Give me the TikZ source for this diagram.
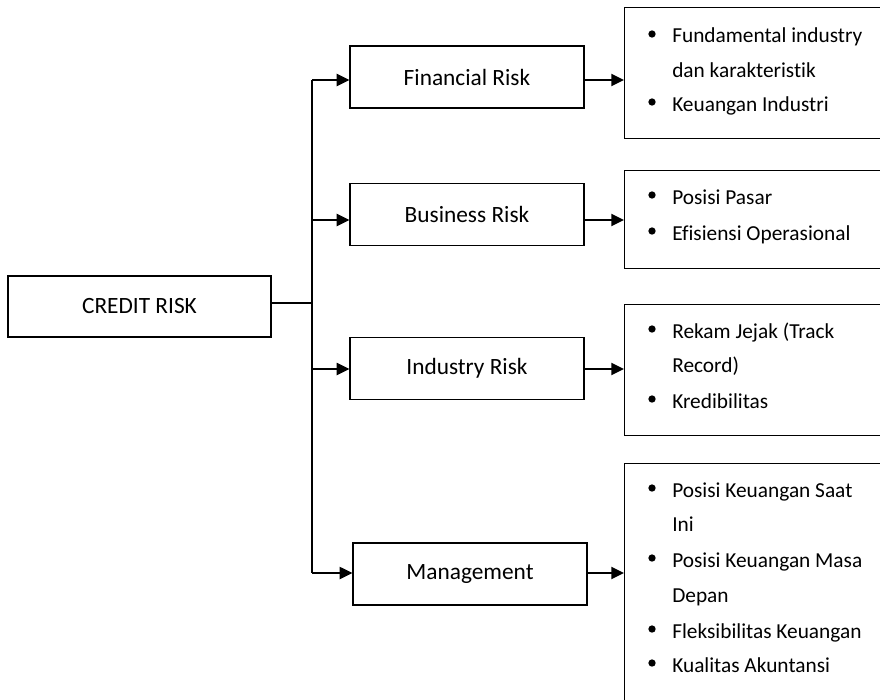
\documentclass[tikz,border=0pt]{standalone}
\usepackage{fontspec}
\setmainfont{Carlito}[Ligatures={NoCommon}]
\usetikzlibrary{arrows.meta}
\begin{document}
\begin{tikzpicture}[x=0.75pt,y=-0.75pt,
  mainbox/.style={draw,line width=0.9pt,minimum width=175.5pt,minimum height=46.5pt,
    inner sep=0pt,font=\fontsize{17.5}{21}\selectfont},
  listbox/.style={draw,line width=0.9pt,anchor=north west,inner sep=0pt},
  link/.style={line width=1.4pt},
  arr/.style={link,-{Triangle[length=9.5pt,width=9pt]}},
  item/.style={anchor=base west,inner sep=0pt,font=\fontsize{16}{19}\selectfont},
  dot/.style={fill,circle,inner sep=0pt,minimum size=5.5pt}]
\useasboundingbox (0,0) rectangle (880,699);
\clip (0,0) rectangle (880,699);

% root box
\node[mainbox,minimum width=197.25pt,minimum height=45.75pt] (credit) at (139.5,306.5) {CREDIT RISK};

% second level boxes
\node[mainbox] (fin) at (467,77) {Financial Risk};
\node[mainbox] (bus) at (467,214.5) {Business Risk};
\node[mainbox] (ind) at (467,368.5) {Industry Risk};
\node[mainbox] (man) at (470,574) {Management};

% detail boxes (running off the right edge)
\node[listbox,minimum width=225pt,minimum height=98.25pt] (d1) at (624,7) {};
\node[listbox,minimum width=225pt,minimum height=73.5pt] (d2) at (624,170) {};
\node[listbox,minimum width=225pt,minimum height=98.25pt] (d3) at (624,304) {};
\node[listbox,minimum width=225pt,minimum height=210pt] (d4) at (624,463) {};

% trunk
\coordinate (t0) at (312,303);
\coordinate (t1) at (312,80);
\coordinate (t2) at (312,220);
\coordinate (t3) at (312,369);
\coordinate (t4) at (312,573);
\draw[link] (credit.east |- t0) -- (t0);
\draw[link] (t1) -- (t4);
\draw[arr] (t1) -- (t1 -| fin.west);
\draw[arr] (t2) -- (t2 -| bus.west);
\draw[arr] (t3) -- (t3 -| ind.west);
\draw[arr] (t4) -- (t4 -| man.west);

% second level to detail boxes
\draw[arr] (fin.east |- t1) -- (t1 -| d1.west);
\draw[arr] (bus.east |- t2) -- (t2 -| d2.west);
\draw[arr] (ind.east |- t3) -- (t3 -| d3.west);
\draw[arr] (man.east |- t4) -- (t4 -| d4.west);

% bullet lists
\node[dot] (b11) at (652,34) {};
\node[item] (l11) at (672,43) {Fundamental industry};
\node[item] (l12) at (672,77) {dan karakteristik};
\node[dot] (b12) at (652,102) {};
\node[item] (l13) at (672,111) {Keuangan Industri};

\node[dot] (b21) at (652,195) {};
\node[item] (l21) at (672,204) {Posisi Pasar};
\node[dot] (b22) at (652,231) {};
\node[item] (l22) at (672,240) {Efisiensi Operasional};

\node[dot] (b31) at (652,329) {};
\node[item] (l31) at (672,338) {Rekam Jejak (Track};
\node[item] (l32) at (672,372) {Record)};
\node[dot] (b32) at (652,399) {};
\node[item] (l33) at (672,408) {Kredibilitas};

\node[dot] (b41) at (652,488) {};
\node[item] (l41) at (672,497) {Posisi Keuangan Saat};
\node[item] (l42) at (672,531) {Ini};
\node[dot] (b42) at (652,558) {};
\node[item] (l43) at (672,567) {Posisi Keuangan Masa};
\node[item] (l44) at (672,602) {Depan};
\node[dot] (b43) at (652,629) {};
\node[item] (l45) at (672,638) {Fleksibilitas Keuangan};
\node[dot] (b44) at (652,663) {};
\node[item] (l46) at (672,672) {Kualitas Akuntansi};
\end{tikzpicture}
\end{document}
